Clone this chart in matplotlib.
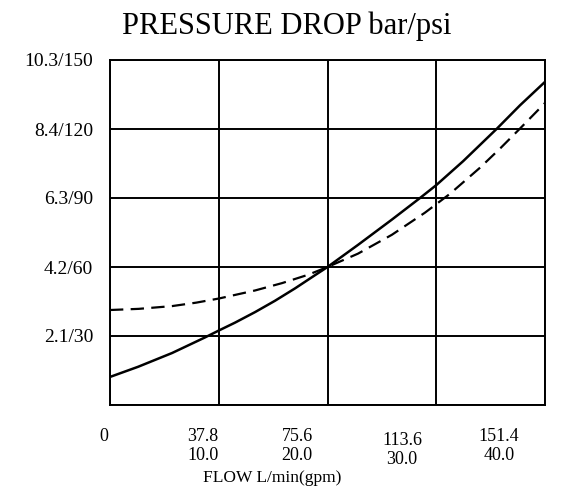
import numpy as np
import matplotlib.pyplot as plt

# flow in L/min, pressure drop in psi
flow_solid = [0, 9.75, 21.6, 33.1, 37.9, 43.5, 50.5, 57.4, 64.4, 71.3, 75.7, 86.3,
              98.1, 107.9, 113.55, 122.9, 134.7, 142.7, 151.4]
psi_solid = [12.2, 16.6, 22.6, 29.4, 32.4, 35.8, 40.4, 45.3, 50.7, 56.4, 60.0, 69.6,
             80.6, 90.0, 95.6, 106.0, 120.2, 130.3, 140.5]

flow_dash = [0, 10.0, 21.6, 30.0, 37.9, 50.5, 59.9, 68.9, 75.7, 86.3, 98.1,
             109.6, 118.3, 128.8, 136.0, 142.7, 151.4]
psi_dash = [41.3, 41.8, 43.0, 44.5, 46.3, 49.8, 53.0, 56.6, 60.0, 65.8, 74.0,
            83.6, 91.8, 103.2, 111.8, 120.2, 131.3]

grid_flow = [0, 37.85, 75.7, 113.55, 151.4]
lmin_labels = ['0', '37.8', '75.6', '113.6', '151.4']
gpm_labels = ['', '10.0', '20.0', '30.0', '40.0']
# label centres sit left of the gridlines in the original
label_x = [-2.1, 32.4, 65.1, 101.6, 135.4]
label_drop = [0, 0, 0, 4, 0]

psi_ticks = [0, 30, 60, 90, 120, 150]
psi_labels = ['', '2.1/30', '4.2/60', '6.3/90', '8.4/120', '10.3/150']

FONT = 'Liberation Serif'

fig = plt.figure(figsize=(5.77, 4.95), dpi=100)
ax = fig.add_axes([110 / 577, 1 - 405 / 495, 435 / 577, 345 / 495])

ax.set_xlim(0, 151.4)
ax.set_ylim(0, 150)
for x in grid_flow:
    ax.axvline(x, color='black', lw=1.4, zorder=1)
for y in psi_ticks:
    ax.axhline(y, color='black', lw=1.4, zorder=1)
for s in ax.spines.values():
    s.set_linewidth(1.4)

ax.plot(flow_solid, psi_solid, color='black', lw=1.8, zorder=3)
ax.plot(flow_dash, psi_dash, color='black', lw=1.6, dashes=(6, 3.3), zorder=3)

ax.set_xticks([])
ax.set_yticks(psi_ticks[1:])
ax.set_yticklabels(psi_labels[1:], fontfamily=FONT, fontsize=14)
ax.tick_params(axis='y', length=0, pad=12)

trans = ax.get_xaxis_transform()
for x, a, b, d in zip(label_x, lmin_labels, gpm_labels, label_drop):
    ax.text(x, -0.09 - d / 345, a, transform=trans, ha='center', va='center',
            fontfamily=FONT, fontsize=13)
    if b:
        ax.text(x, -0.145 - d / 345, b, transform=trans, ha='center', va='center',
                fontfamily=FONT, fontsize=13)

fig.text(272 / 577, 1 - 478 / 495, 'FLOW L/min(gpm)', ha='center', va='center',
         fontfamily=FONT, fontsize=12.5)
fig.text(287 / 577, 1 - 26 / 495, 'PRESSURE DROP bar/psi', ha='center', va='center',
         fontfamily=FONT, fontsize=22)

plt.savefig('out.png', dpi=100)
